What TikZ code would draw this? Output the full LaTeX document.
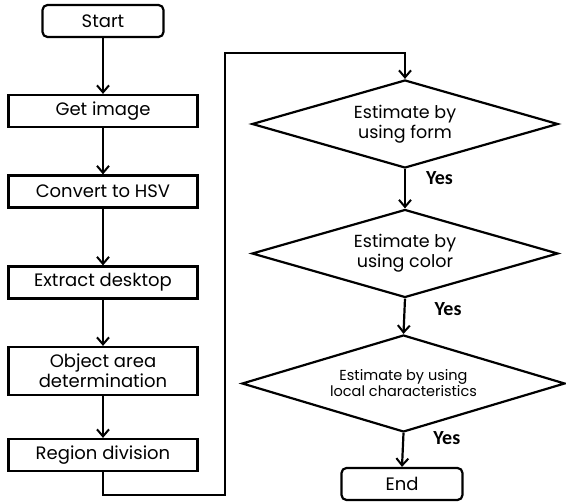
\documentclass[tikz,border=0pt]{standalone}
\usepackage{fontspec}
\setmainfont{Poppins}
\newfontfamily\yesfont{Carlito}
\usetikzlibrary{arrows.meta, positioning, shapes.geometric}

\begin{document}
\begin{tikzpicture}[
  x=1pt, y=-1pt,
  proc/.style={draw, line width=2.2pt, minimum width=189pt, minimum height=32pt,
               font=\fontsize{18}{20}\selectfont, align=center, inner sep=1pt},
  term/.style={draw, line width=2.2pt, rounded corners=5pt, minimum width=121pt,
               minimum height=32pt, font=\fontsize{18}{20}\selectfont},
  decide/.style={draw, diamond, aspect=3.4, line width=2.2pt, minimum width=306pt,
                 minimum height=88pt, font=\fontsize{17.5}{20}\selectfont, align=center,
                 inner sep=0pt},
  arr/.style={-{Straight Barb[length=7pt,width=12pt,line width=2pt]}, line width=2.2pt},
  lab/.style={font=\yesfont\bfseries\fontsize{20}{20}\selectfont, inner sep=0pt}
]
  \useasboundingbox (0,0) rectangle (566,502);

  % left column
  \node[term] (start) at (103,21) {Start};
  \node[proc] (get) at (103,111) {Get image};
  \node[proc] (hsv) at (103,191.5) {Convert to HSV};
  \node[proc] (desk) at (103,282.5) {Extract desktop};
  \node[proc, minimum height=48pt] (area) at (103,371) {Object area\\determination};
  \node[proc] (region) at (103,455) {Region division};

  % right column
  \node[decide] (form) at (405,124) {Estimate by\\using form};
  \node[decide] (color) at (405,253.5) {Estimate by\\using color};
  \node[decide, minimum width=323pt, minimum height=97pt,
        font=\fontsize{14.5}{16}\selectfont] (local) at (403.5,383.5)
        {Estimate by using\\local characteristics};
  \node[term] (end) at (402,484) {End};

  \coordinate (low) at (103,495);
  \coordinate (turn) at (225,53);

  \draw[arr] (start) -- (get);
  \draw[arr] (get) -- (hsv);
  \draw[arr] (hsv) -- (desk);
  \draw[arr] (desk) -- (area);
  \draw[arr] (area) -- (region);
  \draw[arr] (region.south) -- (low) -| (turn) -| (form.north);
  \draw[arr] (form.south) -- node[lab, right=20pt, pos=0.24]{Yes} (color.north);
  \draw[arr] (color.south) -- node[lab, right=29pt, pos=0.29]{Yes} (local.north);
  \draw[arr] (local.south) -- node[lab, right=29pt, pos=0.14]{Yes} (end.north);
\end{tikzpicture}
\end{document}
